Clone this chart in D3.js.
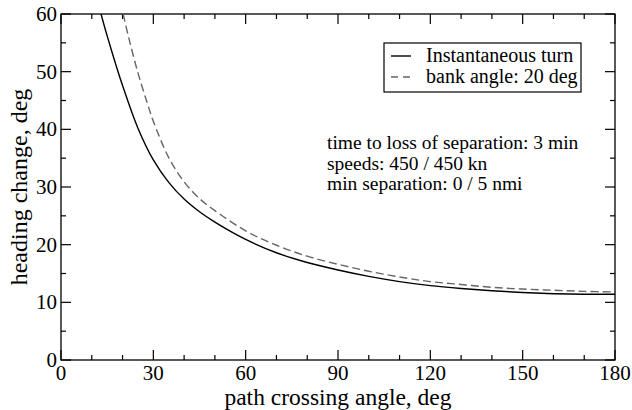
<!DOCTYPE html>
<html><head><meta charset="utf-8">
<script src="https://cdn.jsdelivr.net/npm/d3@7"></script>
<style>body{margin:0;background:#fff}svg{display:block}</style>
</head><body><svg id="c" width="632" height="410"></svg>
<script>
const instAngle = [13,15,18,20,25,30,35,40,45,50,60,70,80,90,100,110,120,130,140,150,160,170,180];
const instHeading = [60,56.2,50.9,47.6,40.2,34.7,30.8,27.9,25.7,23.9,20.9,18.6,16.9,15.6,14.5,13.6,12.9,12.4,12.0,11.7,11.5,11.4,11.4];
const bankAngle = [20.2,22,25,28,30,35,40,45,50,60,70,80,90,100,110,120,130,140,150,160,170,180];
const bankHeading = [60,55.9,49.8,44.6,41.4,35.1,30.9,28.0,25.9,22.4,19.9,18.0,16.6,15.4,14.4,13.6,13.1,12.6,12.3,12.1,11.9,11.8];
const xTicks = [0,30,60,90,120,150,180];
const yTicks = [0,10,20,30,40,50,60];
const seriesNames = ["Instantaneous turn","bank angle: 20 deg"];
const noteLines = ["time to loss of separation: 3 min","speeds: 450 / 450 kn","min separation: 0 / 5 nmi"];

const FONT = "'Liberation Serif', 'Times New Roman', Times, serif";
const svg = d3.select("#c");
const L=61,R=615,T=14,B=360;
const x = d3.scaleLinear().domain([0,180]).range([L,R]);
const y = d3.scaleLinear().domain([0,60]).range([B,T]);

const xMinor = d3.range(0,181,10), yMinor = d3.range(0,61,5);
const g = svg.append("g").attr("stroke","#000").attr("stroke-width",1.2);
xMinor.forEach(v=>{
  const len = v%30===0?10:5;
  g.append("line").attr("x1",x(v)).attr("x2",x(v)).attr("y1",B).attr("y2",B-len);
  g.append("line").attr("x1",x(v)).attr("x2",x(v)).attr("y1",T).attr("y2",T+len);
});
yMinor.forEach(v=>{
  const len = v%10===0?10:5;
  g.append("line").attr("y1",y(v)).attr("y2",y(v)).attr("x1",L).attr("x2",L+len);
  g.append("line").attr("y1",y(v)).attr("y2",y(v)).attr("x1",R).attr("x2",R-len);
});
svg.append("rect").attr("x",L).attr("y",T).attr("width",R-L).attr("height",B-T)
  .attr("fill","none").attr("stroke","#000").attr("stroke-width",1.3);

const txt = (sel)=>sel.attr("font-family",FONT).attr("fill","#000");
txt(svg.append("g").selectAll("text").data(xTicks).join("text"))
  .attr("x",d=>x(d)).attr("y",B+19.5).attr("text-anchor","middle").attr("font-size",21).text(d=>d);
txt(svg.append("g").selectAll("text").data(yTicks).join("text"))
  .attr("x",L-4).attr("y",d=>y(d)+7).attr("text-anchor","end").attr("font-size",21).text(d=>d);

txt(svg.append("text")).attr("x",(L+R)/2).attr("y",405).attr("text-anchor","middle").attr("font-size",23.5).text("path crossing angle, deg");
txt(svg.append("text")).attr("transform",`translate(27,${(T+B)/2}) rotate(-90)`).attr("text-anchor","middle").attr("font-size",24).text("heading change, deg");

const line = d3.line().x(d=>x(d[0])).y(d=>y(d[1])).curve(d3.curveCatmullRom.alpha(0.5));
svg.append("defs").append("clipPath").attr("id","clip").append("rect").attr("x",L).attr("y",T).attr("width",R-L).attr("height",B-T);
svg.append("path").attr("d",line(d3.zip(instAngle,instHeading))).attr("fill","none").attr("stroke","#000").attr("stroke-width",1.4).attr("clip-path","url(#clip)");
svg.append("path").attr("d",line(d3.zip(bankAngle,bankHeading))).attr("fill","none").attr("stroke","#666").attr("stroke-width",1.4).attr("stroke-dasharray","8,4").attr("clip-path","url(#clip)");

// legend
svg.append("rect").attr("x",384).attr("y",43).attr("width",197).attr("height",49).attr("fill","#fff").attr("stroke","#000").attr("stroke-width",1.2);
const styles=[{c:"#000",d:null},{c:"#666",d:"7,5"}];
seriesNames.forEach((n,i)=>{
  const yy = 56 + i*21;
  const l = svg.append("line").attr("x1",391).attr("x2",411).attr("y1",yy).attr("y2",yy).attr("stroke",styles[i].c).attr("stroke-width",1.4);
  if(styles[i].d) l.attr("stroke-dasharray",styles[i].d);
  txt(svg.append("text")).attr("x",426).attr("y",yy+6).attr("font-size",20).text(n);
});
noteLines.forEach((t,i)=>{
  txt(svg.append("text")).attr("x",327).attr("y",149+i*20.5).attr("font-size",19.5).text(t);
});
</script></body></html>
